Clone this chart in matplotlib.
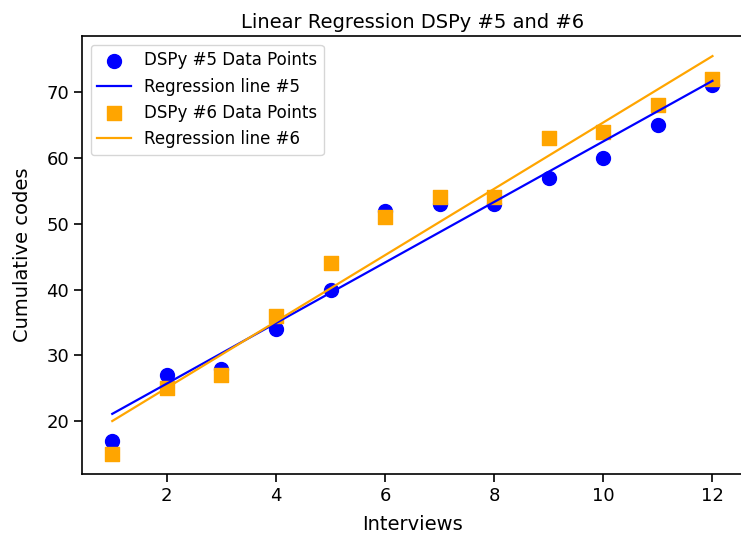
import numpy as np
import matplotlib.pyplot as plt

# Interview number vs cumulative codes
interviews = np.arange(1, 13)
codes_5 = [17, 27, 28, 34, 40, 52, 53, 53, 57, 60, 65, 71]
codes_6 = [15, 25, 27, 36, 44, 51, 54, 54, 63, 64, 68, 72]

# least-squares fits
m5, b5 = np.polyfit(interviews, codes_5, 1)
m6, b6 = np.polyfit(interviews, codes_6, 1)

fig, ax = plt.subplots(figsize=(7.41, 5.40), dpi=100)
fig.subplots_adjust(left=0.111, right=1.002, top=0.933, bottom=0.122)

ax.scatter(interviews, codes_5, color="blue", marker="o", s=100, label="DSPy #5 Data Points")
ax.plot(interviews, m5 * interviews + b5, color="blue", linewidth=1.6, label="Regression line #5")
ax.scatter(interviews, codes_6, color="orange", marker="s", s=100, label="DSPy #6 Data Points")
ax.plot(interviews, m6 * interviews + b6, color="orange", linewidth=1.6, label="Regression line #6")

ax.set_title("Linear Regression DSPy #5 and #6", fontsize=14)
ax.set_xlabel("Interviews", fontsize=14, labelpad=7)
ax.set_ylabel("Cumulative codes", fontsize=14, labelpad=10)
ax.tick_params(labelsize=13, length=6, width=1.2)
for sp in ax.spines.values():
    sp.set_linewidth(1.2)
ax.legend(loc="upper left", fontsize=12)

fig.savefig("out.png")
